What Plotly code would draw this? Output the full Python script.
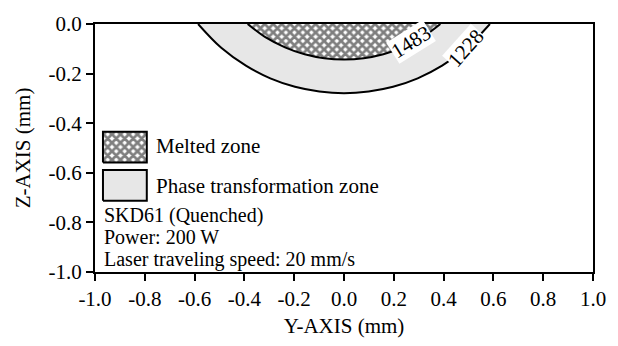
import plotly.graph_objects as go

# Boundary of the phase transformation zone (1228 contour), Y (mm) vs Z (mm)
outer_y = [-0.586, -0.493, -0.394, -0.296, -0.197, -0.099, 0.0, 0.099, 0.197, 0.296, 0.394, 0.493, 0.586]
outer_z = [0.0, -0.096, -0.168, -0.219, -0.253, -0.272, -0.279, -0.272, -0.253, -0.219, -0.168, -0.096, 0.0]
# Boundary of the melted zone (1483 contour)
inner_y = [-0.387, -0.316, -0.237, -0.158, -0.079, 0.0, 0.079, 0.158, 0.237, 0.316, 0.387]
inner_z = [0.0, -0.053, -0.094, -0.122, -0.138, -0.143, -0.138, -0.122, -0.094, -0.053, 0.0]

contour_labels = ["1483", "1228"]
label_y = [0.268, 0.49]
label_z = [-0.072, -0.098]
label_angle = [-32, -48]

x_ticks = [-1.0, -0.8, -0.6, -0.4, -0.2, 0.0, 0.2, 0.4, 0.6, 0.8, 1.0]
z_ticks = [0.0, -0.2, -0.4, -0.6, -0.8, -1.0]

legend_names = ["Melted zone", "Phase transformation zone"]
info_lines = ["SKD61 (Quenched)", "Power: 200 W", "Laser traveling speed: 20 mm/s"]

FONT = "Liberation Serif, Times New Roman, serif"

dots = dict(shape=".", size=2, solidity=0.5, fgcolor="#bdbdbd", bgcolor="#f2f2f2")
hatch = dict(shape="x", size=6, solidity=0.7, fgcolor="black", bgcolor="white")

fig = go.Figure()
fig.add_trace(go.Scatter(x=outer_y, y=outer_z, mode="lines", line=dict(color="black", width=2, shape="spline"),
                         fill="toself", fillpattern=dots, fillcolor="#e2e2e2", showlegend=False, hoverinfo="skip"))
fig.add_trace(go.Scatter(x=inner_y, y=inner_z, mode="lines", line=dict(color="black", width=2, shape="spline"),
                         fill="toself", fillpattern=hatch, showlegend=False, hoverinfo="skip"))

# manual legend boxes on an overlay axis (0..1 of plot area)
box_x = [0.016, 0.104, 0.104, 0.016, 0.016]
box_specs = [([0.442, 0.442, 0.566, 0.566, 0.442], hatch), ([0.287, 0.287, 0.411, 0.411, 0.287], dots)]
for by, pat in box_specs:
    fig.add_trace(go.Scatter(x=box_x, y=by, xaxis="x2", yaxis="y2", mode="lines",
                             line=dict(color="black", width=2), fill="toself", fillpattern=pat,
                             fillcolor="#e2e2e2", showlegend=False, hoverinfo="skip"))

for t, lx, lz, ang in zip(contour_labels, label_y, label_z, label_angle):
    fig.add_annotation(x=lx, y=lz, text=t, showarrow=False, textangle=ang, bgcolor="white",
                       font=dict(family=FONT, size=21, color="black"), borderpad=0)

for name, yy in zip(legend_names, [0.510, 0.345]):
    fig.add_annotation(x=0.118, y=yy, xref="paper", yref="paper", text=name, showarrow=False,
                       xanchor="left", yanchor="middle", font=dict(family=FONT, size=21, color="black"))
for line, yy in zip(info_lines, [0.229, 0.140, 0.050]):
    fig.add_annotation(x=0.016, y=yy, xref="paper", yref="paper", text=line, showarrow=False,
                       xanchor="left", yanchor="middle", borderpad=0,
                       font=dict(family=FONT, size=20, color="black"))

axis_common = dict(showgrid=False, zeroline=False, showline=True, linecolor="black", linewidth=2,
                   mirror=True, ticks="outside", ticklen=7, tickwidth=2, tickcolor="black",
                   tickfont=dict(family=FONT, size=21, color="black"))
fig.update_layout(
    width=618, height=346,
    margin=dict(l=95, r=16, t=21, b=67),
    plot_bgcolor="white", paper_bgcolor="white",
    font=dict(family=FONT, size=21, color="black"),
    xaxis=dict(range=[-1, 1], tickvals=x_ticks, ticktext=[f"{v:.1f}" for v in x_ticks],
               title=dict(text="Y-AXIS (mm)", font=dict(family=FONT, size=21), standoff=8), **axis_common),
    yaxis=dict(range=[-1, 0], tickvals=z_ticks, ticktext=[f"{v:.1f}" for v in z_ticks],
               title=dict(text="Z-AXIS (mm)", font=dict(family=FONT, size=21), standoff=12), **axis_common),
    xaxis2=dict(overlaying="x", range=[0, 1], visible=False),
    yaxis2=dict(overlaying="y", range=[0, 1], visible=False),
    showlegend=False,
)

fig.write_html("out.html")
